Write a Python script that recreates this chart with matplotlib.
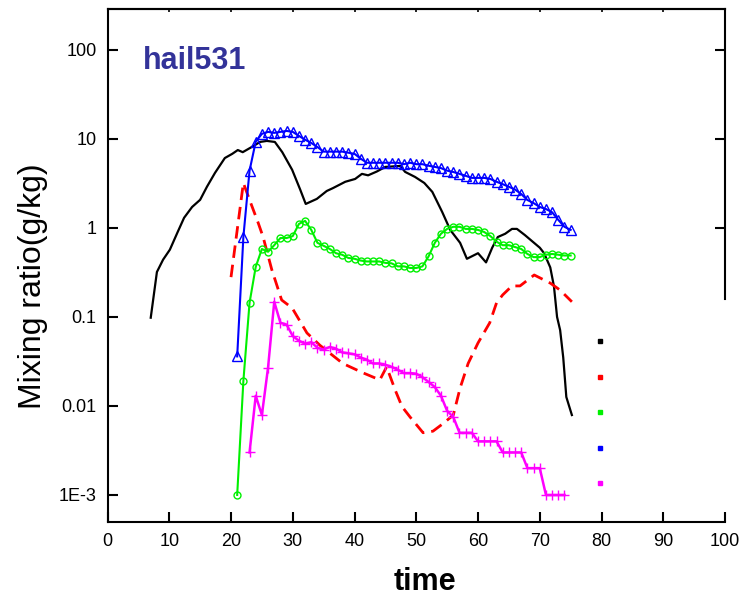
import matplotlib
matplotlib.use("Agg")
import matplotlib.pyplot as plt
from matplotlib.lines import Line2D

plt.rcParams['font.family'] = ['Liberation Sans', 'DejaVu Sans']

# black solid line (no markers)
black_t = [7.0, 8.0, 9.0, 10.1, 11.3, 12.4, 13.7, 15.0, 16.1, 17.4, 19.0, 20.2, 21.1, 21.9,
           23.6, 24.7, 25.8, 27.1, 28.3, 29.9, 31.2, 32.1, 33.9, 35.5, 36.5, 38.5, 40.1, 41.2,
           42.2, 43.6, 45.0, 47.4, 48.2, 49.8, 51.3, 52.6, 54.2, 55.5, 57.1, 58.2, 60.0, 61.3,
           62.3, 63.2, 64.4, 65.5, 66.3, 67.6, 70.0, 70.7, 71.7, 72.3, 72.8, 73.3, 73.8, 74.3, 75.2]
black_v = [0.098, 0.32, 0.44, 0.57, 0.88, 1.3, 1.72, 2.07, 2.9, 4.15, 6.1, 6.8, 7.5, 7.1,
           8.3, 9.25, 9.5, 9.25, 7.1, 4.5, 2.7, 1.86, 2.12, 2.6, 2.8, 3.3, 3.55, 4.05,
           3.9, 4.3, 4.85, 4.97, 4.26, 3.74, 3.2, 2.54, 1.51, 0.95, 0.68, 0.45, 0.52, 0.41,
           0.6, 0.79, 0.86, 0.975, 0.975, 0.83, 0.6, 0.52, 0.36, 0.22, 0.1, 0.071, 0.035, 0.0126, 0.0079]

# red dashed line
red_t = [20, 22, 23, 24.4, 25.2, 26.6, 28.2, 29.9, 32.3, 34.4, 38.1, 41.4, 44.1, 45.2, 46.6,
         47.7, 49, 51.1, 52.7, 54.3, 56, 57.1, 58.4, 60, 61.9, 63, 64, 65.5, 66.8, 69.1, 71.7, 73.3, 75.2]
red_v = [0.28, 3.2, 2.07, 1.14, 0.79, 0.34, 0.155, 0.126, 0.066, 0.048, 0.030, 0.0235, 0.0196, 0.0275, 0.015,
         0.0098, 0.0075, 0.005, 0.0052, 0.0063, 0.0079, 0.0159, 0.030, 0.051, 0.086, 0.144, 0.177, 0.223, 0.223,
         0.296, 0.24, 0.2, 0.148]

# green open circles, t = 21..75
green_t = list(range(21, 76))
green_v = [0.001, 0.019, 0.144, 0.365, 0.58, 0.54, 0.64, 0.77, 0.77, 0.81,
           1.11, 1.2, 0.95, 0.68, 0.63, 0.58, 0.52, 0.50, 0.46, 0.45,
           0.43, 0.42, 0.42, 0.42, 0.405, 0.40, 0.37, 0.37, 0.355, 0.355,
           0.37, 0.48, 0.68, 0.86, 0.975, 1.03, 1.03, 0.975, 0.975, 0.95,
           0.9, 0.81, 0.70, 0.64, 0.64, 0.61, 0.58, 0.51, 0.47, 0.47,
           0.50, 0.51, 0.50, 0.49, 0.49]

# blue open triangles, t = 21..75
blue_t = list(range(21, 76))
blue_v = [0.036, 0.79, 4.4, 9.3, 11.4, 12.0, 11.7, 12.0, 12.3, 12.0,
          10.8, 9.8, 9.0, 8.1, 7.2, 7.2, 7.2, 7.2, 7.0, 6.8,
          6.0, 5.4, 5.4, 5.4, 5.4, 5.4, 5.4, 5.2, 5.4, 5.2,
          5.2, 5.0, 4.85, 4.7, 4.4, 4.25, 4.05, 3.85, 3.65, 3.65,
          3.65, 3.55, 3.3, 3.1, 2.9, 2.7, 2.4, 2.06, 1.9, 1.72,
          1.63, 1.5, 1.23, 1.03, 0.95]

# magenta plus markers, t = 23..74
mag_t = list(range(23, 75))
mag_v = [0.003, 0.013, 0.0079, 0.027, 0.148, 0.086, 0.082, 0.061, 0.054, 0.050,
         0.052, 0.045, 0.043, 0.046, 0.044, 0.040, 0.039, 0.038, 0.035, 0.033,
         0.030, 0.030, 0.029, 0.0275, 0.0255, 0.0234, 0.0234, 0.023, 0.021, 0.0186,
         0.0163, 0.013, 0.0088, 0.0075, 0.005, 0.005, 0.005, 0.004, 0.004, 0.004,
         0.004, 0.003, 0.003, 0.003, 0.003, 0.002, 0.002, 0.002, 0.001, 0.001,
         0.001, 0.001]

ytick_vals = [1e-3, 1e-2, 1e-1, 1, 10, 100]
ytick_labels = ['1E-3', '0.01', '0.1', '1', '10', '100']
xticks = list(range(0, 101, 10))
ylim = (5.0e-4, 286)

fig = plt.figure(figsize=(7.43, 5.97), dpi=100)
ax = fig.add_axes([0.1447, 0.1261, 0.8311, 0.8583])

ax.plot(black_t, black_v, color='black', lw=1.6)
ax.plot(red_t, red_v, color='#ff0000', lw=2.0, dashes=(4.5, 2.5))
ax.plot(green_t, green_v, color='#00f000', lw=1.5, marker='o', ms=5,
        mfc='none', mec='#00f000', mew=1.0)
ax.plot(blue_t, blue_v, color='#0000ff', lw=1.5, marker='^', ms=6.5,
        mfc='none', mec='#0000ff', mew=1.0)
ax.plot(mag_t, mag_v, color='#ff00ff', lw=1.8, marker='+', ms=7, mew=1.0)

ax.set_yscale('log')
ax.set_xlim(0, 100)
ax.set_ylim(*ylim)
ax.set_xticks(xticks)
ax.set_yticks(ytick_vals)
ax.set_yticklabels(ytick_labels)
ax.minorticks_off()

for s in ['left', 'bottom', 'top']:
    ax.spines[s].set_linewidth(1.5)
ax.spines['right'].set_visible(False)
ax.tick_params(axis='both', which='major', direction='in', length=7, width=1.5,
               labelsize=13, top=False, right=False)
ax.tick_params(axis='x', pad=8)
ax.tick_params(axis='y', pad=8)

# tiny ticks on the top edge
top = ax.secondary_xaxis('top')
top.set_xticks(xticks)
top.tick_params(direction='in', length=2, width=1.2, labeltop=False)
top.spines['top'].set_linewidth(1.5)

# partial right axis
ax2 = ax.twinx()
ax2.set_yscale('log')
ax2.set_ylim(*ylim)
ax2.set_yticks([1, 10, 100])
ax2.minorticks_off()
ax2.tick_params(direction='in', length=7, width=1.5, labelright=False)
ax2.spines['right'].set_linewidth(1.5)
ax2.spines['right'].set_bounds(0.159, ylim[1])
for s in ['left', 'bottom', 'top']:
    ax2.spines[s].set_visible(False)

# legend with markers only
colors = ['black', '#ff0000', '#00f000', '#0000ff', '#ff00ff']
handles = [Line2D([], [], marker='s', ms=2.5, ls='none', color=c) for c in colors]
ax.legend(handles, [''] * 5, loc='upper left', bbox_to_anchor=(0.787, 0.364),
          frameon=False, handlelength=1.0, handletextpad=0.0, borderpad=0.0,
          borderaxespad=0.0, labelspacing=1.55, fontsize=10)

ax.text(0.0575, 0.8835, 'hail531', transform=ax.transAxes, fontsize=22,
        fontweight='bold', color='#333399', ha='left', va='baseline')

fig.text(33 / 743, 1 - 286.5 / 597, 'Mixing ratio(g/kg)', rotation=90,
         ha='center', va='center', fontsize=23)
fig.text(425 / 743, 1 - 582 / 597, 'time', ha='center', va='center',
         fontsize=22, fontweight='bold')

fig.savefig('out.png', dpi=100)
